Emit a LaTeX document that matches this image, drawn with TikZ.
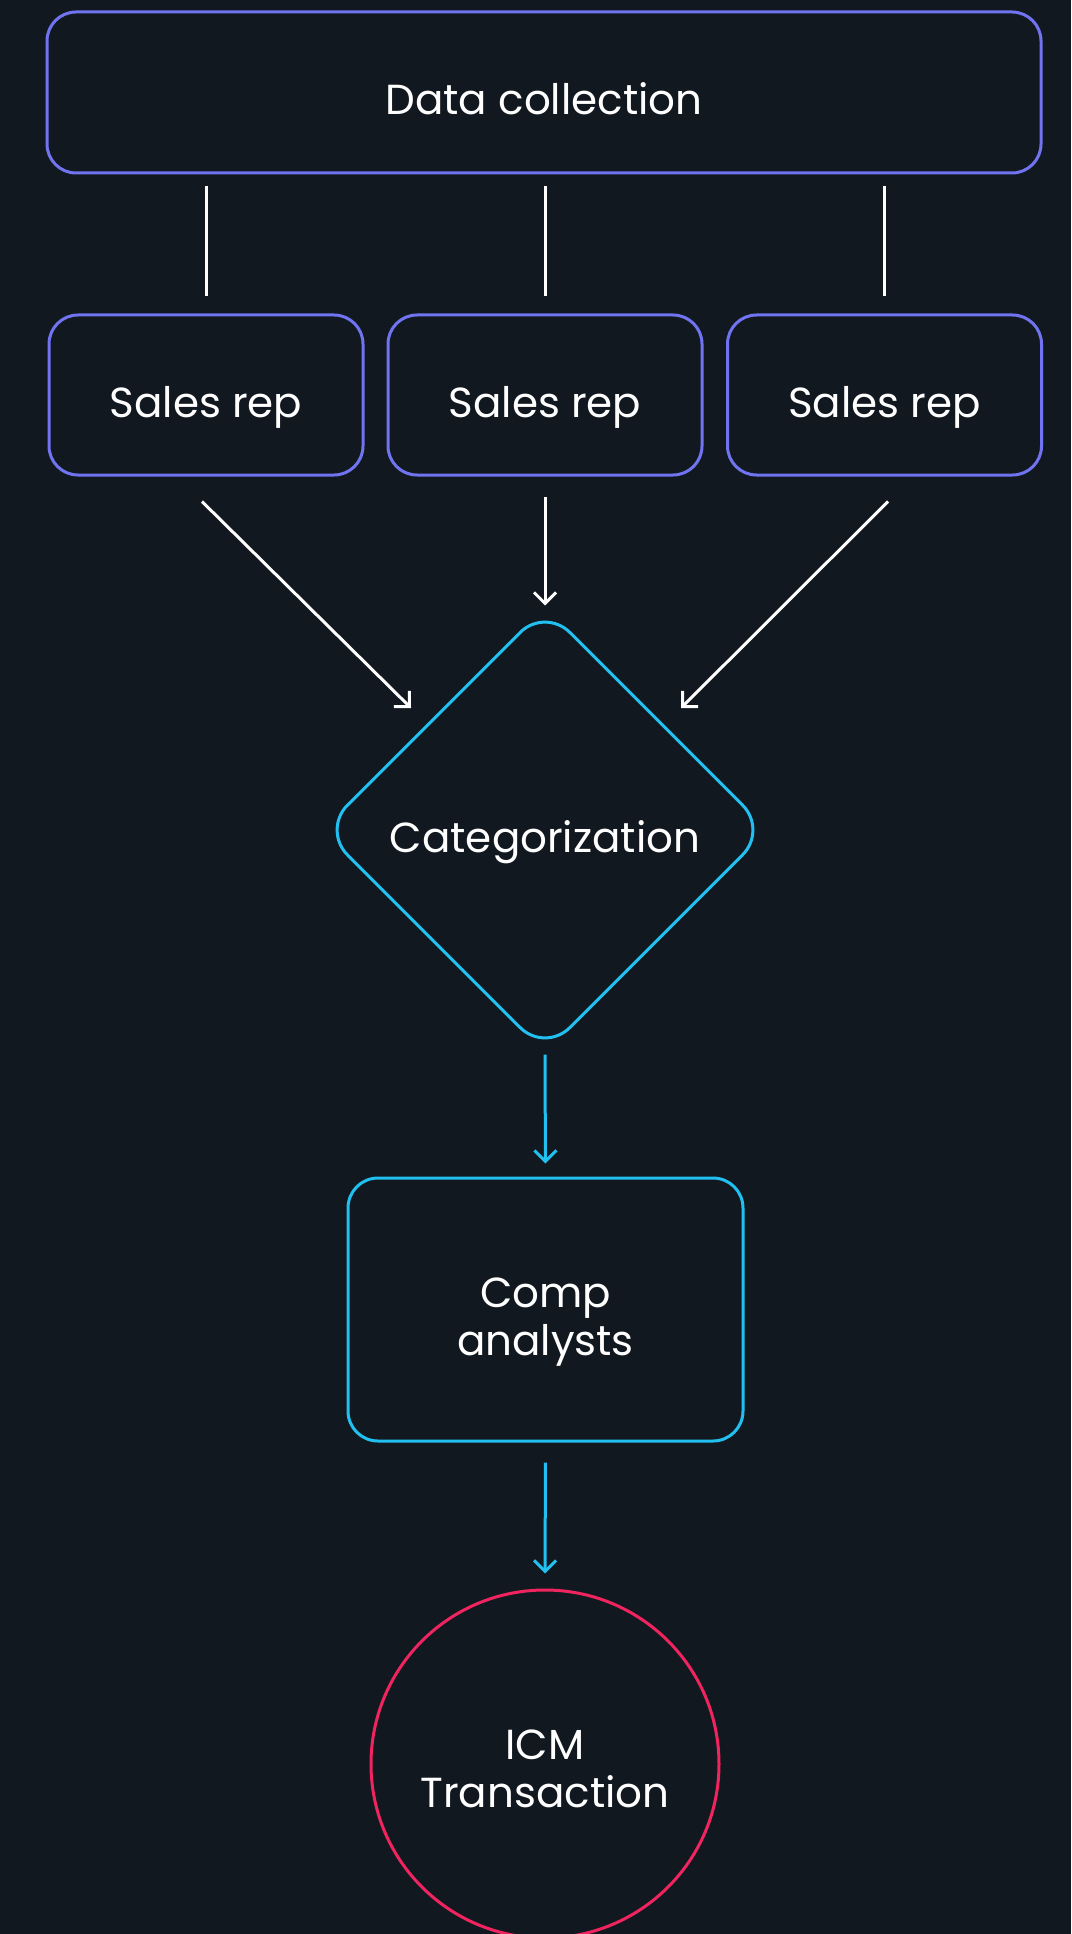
\documentclass[tikz,border=0pt]{standalone}
\usepackage{fontspec}
\setmainfont{Poppins}
\usetikzlibrary{arrows.meta,shapes.geometric,calc}
\definecolor{bg}{HTML}{111820}
\definecolor{peri}{HTML}{7074F0}
\definecolor{cyanc}{HTML}{22C0F0}
\definecolor{redc}{HTML}{F0245E}
\begin{document}
\begin{tikzpicture}[x=1pt,y=-1pt,
  every node/.style={font=\fontsize{42}{48}\selectfont, text=white, align=center, text height=44pt, text depth=0pt},
  pbox/.style={draw=peri, line width=3pt, rounded corners=29pt},
  cbox/.style={draw=cyanc, line width=3pt, rounded corners=30pt},
  catshape/.style={draw=cyanc, line width=3pt, diamond, rounded corners=35pt, minimum width=446pt, minimum height=446pt},
  endcircle/.style={draw=redc, line width=3pt, circle, minimum size=348pt},
  plainline/.style={draw=white, line width=3pt},
  arrw/.style={draw=white, line width=3pt, -{Straight Barb[length=11pt,width=22pt,line width=3pt]}},
  carrw/.style={draw=cyanc, line width=3pt, -{Straight Barb[length=11pt,width=22pt,line width=3pt]}}]
\fill[bg] (0,0) rectangle (1071,1934);
\useasboundingbox (0,0) rectangle (1071,1934);

\node[pbox, minimum width=994pt, minimum height=161pt] (dc) at (544,92.5) {Data collection};
\node[pbox, minimum width=314pt, minimum height=160pt] (s1) at (206,395) {Sales rep};
\node[pbox, minimum width=314pt, minimum height=160pt] (s2) at (545,395) {Sales rep};
\node[pbox, minimum width=314pt, minimum height=160pt] (s3) at (884.5,395) {Sales rep};
\node[catshape] (cat) at (545,830) {Categorization};
\node[cbox, minimum width=395pt, minimum height=263pt, text height=92pt] (comp) at (545.5,1309.5) {Comp\\analysts};
\node[endcircle, text height=86pt] (icm) at (545,1764) {ICM\\Transaction};

\draw[plainline, shorten <=12pt, shorten >=17pt] (s1.north |- dc.south) -- (s1.north);
\draw[plainline, shorten <=12pt, shorten >=17pt] (s2.north |- dc.south) -- (s2.north);
\draw[plainline, shorten <=12pt, shorten >=17pt] (s3.north |- dc.south) -- (s3.north);

\draw[arrw] ($(s1.south)+(-4,25)$) -- ($(cat.center)+(-134,-122)$);
\draw[arrw, shorten <=20pt] (s2.south) -- (cat.north);
\draw[arrw] ($(s3.south)+(3.5,25)$) -- ($(cat.center)+(136,-122)$);

\draw[carrw, shorten >=13pt] (cat.south) -- (comp.north);
\draw[carrw, shorten <=20pt, shorten >=15pt] (comp.south) -- (icm.north);
\end{tikzpicture}
\end{document}
